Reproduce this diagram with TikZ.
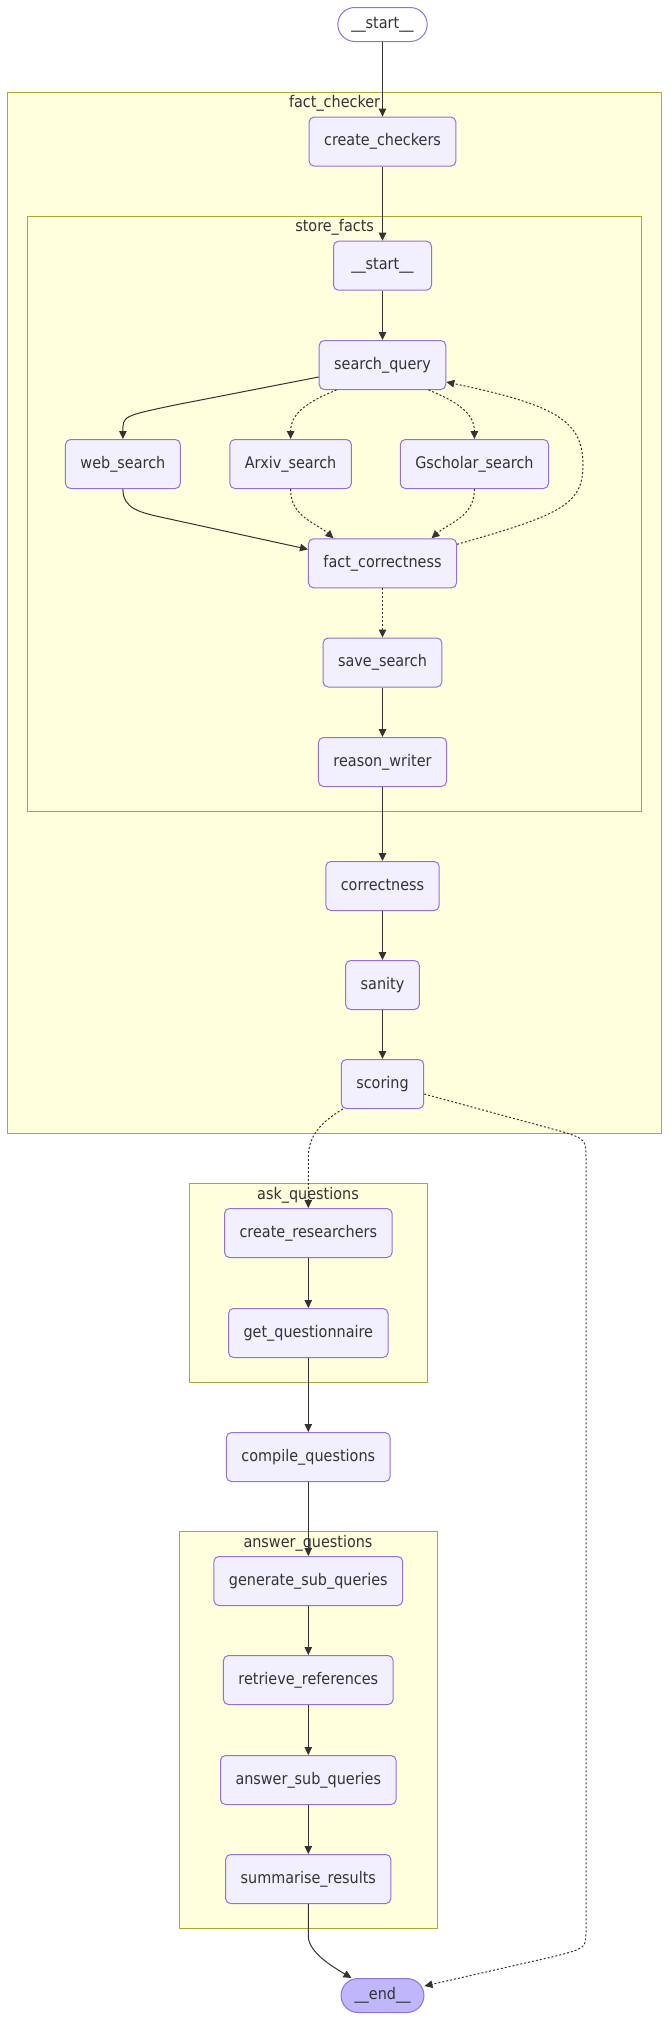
\documentclass[tikz,border=0pt]{standalone}
\usepackage{fontspec}
\setmainfont{DejaVu Sans}[FakeStretch=0.9]
\usepackage{xcolor}
\usepackage{tikz}
\usetikzlibrary{arrows.meta}
\usetikzlibrary{positioning}
\usetikzlibrary{calc}
\definecolor{nodefill}{HTML}{F2F0FF}
\definecolor{nodeline}{HTML}{9370DB}
\definecolor{clusterfill}{HTML}{FFFFDE}
\definecolor{clusterline}{HTML}{AAAA33}
\definecolor{edgeline}{HTML}{333333}
\definecolor{endfill}{HTML}{BFB6FC}
\tikzset{
	>={Triangle[length=8pt,width=7.5pt]},
    stepnode/.style={draw=nodeline, fill=nodefill, rounded corners=5pt,
        minimum height=49pt, inner xsep=15pt, text height=12pt, text depth=3.5pt,
        text=edgeline, font=\fontsize{16pt}{19pt}\selectfont},
    terminal/.style={stepnode, rounded corners=17pt, minimum height=34pt, inner xsep=13.5pt},
    cluster/.style={draw=clusterline, fill=clusterfill},
    clusterlabel/.style={inner sep=0pt, text height=12pt, text depth=3.5pt,
        text=edgeline, font=\fontsize{16pt}{19pt}\selectfont},
    direct/.style={draw=edgeline, ->},
    conditional/.style={draw=edgeline, ->, dash pattern=on 2pt off 2pt},
}

\begin{document}
\begin{tikzpicture}[x=1pt, y=-1pt, line width=1pt]
\useasboundingbox (0,0) rectangle (670,2021);

\draw[cluster] (7.7,92.2) rectangle (661.5,1133.5);
\node[clusterlabel] (checkerlabel) at (334.6,103) {fact\_checker};
\draw[cluster] (27.8,216) rectangle (641.9,811.2);
\node[clusterlabel] (storelabel) at (334.6,227.7) {store\_facts};
\draw[cluster] (189.3,1183.5) rectangle (427.4,1382.8);
\node[clusterlabel] (asklabel) at (308,1195) {ask\_questions};
\draw[cluster] (179.5,1531.3) rectangle (437.2,1928.5);
\node[clusterlabel] (answerlabel) at (308,1543.7) {answer\_questions};

\node[terminal, fill=white] (start) at (382.5,24.5) {\_\_start\_\_};
\node[stepnode] (checkers) at (382.5,141.6) {create\_checkers};
\node[stepnode, minimum width=98pt] (inner) at (382.5,265.7) {\_\_start\_\_};
\node[stepnode] (query) at (382.5,365) {search\_query};
\node[stepnode] (web) at (122.9,464) {web\_search};
\node[stepnode] (arxiv) at (290.6,464) {Arxiv\_search};
\node[stepnode] (gscholar) at (474.4,464) {Gscholar\_search};
\node[stepnode] (factcorr) at (382.5,563.3) {fact\_correctness};
\node[stepnode] (save) at (382.5,662.5) {save\_search};
\node[stepnode] (reason) at (382.5,762) {reason\_writer};
\node[stepnode] (correct) at (382.5,886) {correctness};
\node[stepnode] (sanity) at (382.5,985) {sanity};
\node[stepnode] (scoring) at (382.5,1084) {scoring};
\node[stepnode] (researchers) at (308.3,1233) {create\_researchers};
\node[stepnode] (questionnaire) at (308.3,1333) {get\_questionnaire};
\node[stepnode] (compile) at (308.3,1457) {compile\_questions};
\node[stepnode] (subqueries) at (308.3,1581) {generate\_sub\_queries};
\node[stepnode] (references) at (308.3,1680) {retrieve\_references};
\node[stepnode] (answers) at (308.3,1780) {answer\_sub\_queries};
\node[stepnode] (summary) at (308.3,1879) {summarise\_results};
\node[terminal, fill=endfill] (stop) at (382.5,1995.5) {\_\_end\_\_};

\draw[direct] (start) -- (checkers);
\draw[direct] (checkers) -- (inner);
\draw[direct] (inner) -- (query);

\draw[direct] ($(query.west)+(0,12)$) -- (175,405) .. controls (122.9,416) .. (web.north);
\draw[conditional] ($(query.south)+(-46,0)$) .. controls +(-30,12) and +(0,-25) .. (arxiv.north);
\draw[conditional] ($(query.south)+(46,0)$) .. controls +(30,12) and +(0,-25) .. (gscholar.north);

\draw[direct] (web.south) .. controls +(0,20) and +(-25,-5.5) .. (165,518) -- ($(factcorr.west)+(0,-14)$);
\draw[conditional] (arxiv.south) .. controls +(0,28) and +(-18,-16) .. ($(factcorr.north)+(-49,0)$);
\draw[conditional] (gscholar.south) .. controls +(0,28) and +(18,-16) .. ($(factcorr.north)+(49,0)$);
\draw[conditional] ($(factcorr.east)+(0,-19)$) .. controls (560,515) and (583,505) .. (583,465)
    .. controls (583,420) and (555,405) .. ($(query.east)+(0,17)$);

\draw[conditional] (factcorr) -- (save);
\draw[direct] (save) -- (reason);
\draw[direct] (reason) -- (correct);
\draw[direct] (correct) -- (sanity);
\draw[direct] (sanity) -- (scoring);

\draw[conditional] ($(scoring.south west)+(2,0)$) .. controls +(-25,15) and +(0,-20) .. ($(researchers.north)+(0,-50)$) -- (researchers.north);
\draw[conditional] ($(scoring.east)+(0,10)$) -- (560,1131) .. controls (586,1139) .. (586,1160)
    -- (586,1930) .. controls (586,1948) .. (556,1956) -- ($(stop.east)+(0,-9.5)$);

\draw[direct] (researchers) -- (questionnaire);
\draw[direct] (questionnaire) -- (compile);
\draw[direct] (compile) -- (subqueries);
\draw[direct] (subqueries) -- (references);
\draw[direct] (references) -- (answers);
\draw[direct] (answers) -- (summary);
\draw[direct] (summary.south) -- ++(0,32) .. controls +(0,16) and +(-20,-12) .. ($(stop.north)+(-31,0)$);
\end{tikzpicture}
\end{document}
